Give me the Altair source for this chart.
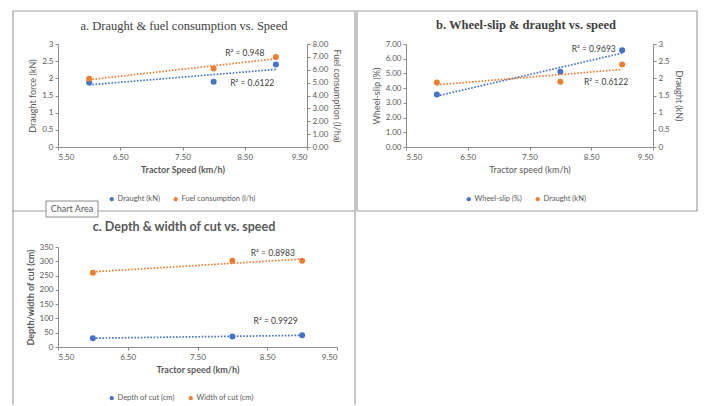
import altair as alt
import pandas as pd

# ---- data ----
speed = [6.0, 8.0, 9.0]
draught_kn = [1.88, 1.90, 2.40]
fuel_lha = [5.3, 6.1, 7.0]
wheel_slip = [3.56, 5.12, 6.57]
depth_cm = [31, 37, 41]
width_cm = [260, 302, 302]

x_ticks = [5.5, 6.5, 7.5, 8.5, 9.5]

BLUE = "#4472C4"
ORANGE = "#ED7D31"
FONT = "Lato"
SERIF = "Liberation Serif"
LABEL = "#595959"
AXISC = "#8C8C8C"
BORDER = "#A0A0A0"
ANNO = "#404040"

one = pd.DataFrame({"k": [0]})


def frame(series, values):
    return pd.DataFrame({"speed": speed, "value": values, "series": series})


def series_layer(df, color, names, ydomain, yticks, ylabel, ytitle, orient,
                 xtitle, xbold, ytbold, leg, r2, r2x, r2y):
    xscale = alt.Scale(domain=[5.5, 9.5], nice=False, zero=False)
    xaxis = alt.Axis(values=x_ticks, labelExpr="format(datum.value, '.2f')",
                     title=xtitle, titleFontWeight="bold" if xbold else "normal",
                     labelPadding=3, titlePadding=4, zindex=1)
    yscale = alt.Scale(domain=ydomain, nice=False, zero=True)
    yaxis = alt.Axis(values=yticks, labelExpr=ylabel, title=ytitle, orient=orient,
                     titleFontWeight="bold" if ytbold else "normal", zindex=1)
    x = alt.X("speed:Q", scale=xscale, axis=xaxis)
    y = alt.Y("value:Q", scale=yscale, axis=yaxis)
    line = alt.Chart(df).transform_regression("speed", "value").mark_line(
        color=color, strokeWidth=1.7, strokeDash=[1.6, 1.6]
    ).encode(x=x, y=y)
    pts = alt.Chart(df).mark_circle(size=36, opacity=1).encode(
        x=x, y=y,
        color=alt.Color("series:N",
                        scale=alt.Scale(domain=names, range=[BLUE, ORANGE]),
                        legend=leg),
    )
    txt = alt.Chart(one).mark_text(
        text=r2, font=FONT, fontSize=8.5, color=ANNO
    ).encode(
        x=alt.XDatum(r2x, type="quantitative", scale=xscale, axis=xaxis),
        y=alt.YDatum(r2y, type="quantitative", scale=yscale, axis=yaxis),
    )
    return alt.layer(line, pts, txt)


def legend(x, y):
    return alt.Legend(title=None, orient="none", legendX=x, legendY=y,
                      direction="horizontal", symbolType="circle",
                      symbolSize=18, symbolStrokeWidth=0,
                      labelFont=FONT, labelFontSize=7.5, labelColor=LABEL,
                      labelOffset=2, columnPadding=12)


def rect(x, x2, y, y2, **kw):
    return alt.Chart(one).mark_rect(**kw).encode(
        x=alt.value(x), x2=alt.value(x2), y=alt.value(y), y2=alt.value(y2))


def title(text, x, y, **kw):
    return alt.Chart(one).mark_text(text=text, fontSize=12.5, **kw).encode(
        x=alt.value(x), y=alt.value(y))


FMT_G = "format(datum.value, '~g')"
FMT_2 = "format(datum.value, '.2f')"

# ---- panel a ----
names_a = ["Draught (kN)", "Fuel consumption (l/h)"]
leg_a = legend(50, 151)
a1 = series_layer(frame(names_a[0], draught_kn), BLUE, names_a, [0, 3],
                  [0, 0.5, 1, 1.5, 2, 2.5, 3], FMT_G, "Draught force (kN)", "left",
                  "Tractor Speed (km/h)", True, False, leg_a,
                  "R² = 0.6122", 8.62, 1.86)
a2 = series_layer(frame(names_a[1], fuel_lha), ORANGE, names_a, [0, 8],
                  [0, 1, 2, 3, 4, 5, 6, 7, 8], FMT_2, "Fuel consumption (l/ha)", "right",
                  "Tractor Speed (km/h)", True, False, leg_a,
                  "R² = 0.948", 8.5, 7.3)
panel_a = alt.layer(
    rect(-45, 297, -33, 167, fillOpacity=0, stroke=BORDER, strokeWidth=1.2),
    title("a. Draught & fuel consumption vs. Speed", 126, -18,
          font=SERIF, fontWeight="normal", color=ANNO),
    a1, a2,
).resolve_scale(y="independent").properties(width=249, height=103)

# ---- panel b ----
names_b = ["Wheel-slip (%)", "Draught (kN)"]
leg_b = legend(59, 151)
b1 = series_layer(frame(names_b[0], wheel_slip), BLUE, names_b, [0, 7],
                  [0, 1, 2, 3, 4, 5, 6, 7], FMT_2, "Wheel-slip (%)", "left",
                  "Tractor speed (km/h)", False, False, leg_b,
                  "R² = 0.9693", 8.54, 6.66)
b2 = series_layer(frame(names_b[1], draught_kn), ORANGE, names_b, [0, 3],
                  [0, 0.5, 1, 1.5, 2, 2.5, 3], FMT_G, "Draught (kN)", "right",
                  "Tractor speed (km/h)", False, False, leg_b,
                  "R² = 0.6122", 8.74, 1.89)
panel_b = alt.layer(
    rect(-49, 291, -33, 167, fillOpacity=0, stroke=BORDER, strokeWidth=1.2),
    title("b. Wheel-slip & draught vs. speed", 120, -19,
          font=SERIF, fontWeight="bold", color=ANNO),
    b1, b2,
).resolve_scale(y="independent").properties(width=247, height=103)

# ---- panel c ----
names_c = ["Depth of cut (cm)", "Width of cut (cm)"]
leg_c = legend(50, 147)
c_ticks = [0, 50, 100, 150, 200, 250, 300, 350]
c1 = series_layer(frame(names_c[0], depth_cm), BLUE, names_c, [0, 350],
                  c_ticks, FMT_G, "Depth/width of cut (cm)", "left",
                  "Tractor speed (km/h)", True, True, leg_c,
                  "R² = 0.9929", 8.62, 91)
c2 = series_layer(frame(names_c[1], width_cm), ORANGE, names_c, [0, 350],
                  c_ticks, FMT_G, "Depth/width of cut (cm)", "left",
                  "Tractor speed (km/h)", True, True, leg_c,
                  "R² = 0.8983", 8.58, 330)
rule_l = alt.Chart(one).mark_rule(color=BORDER, strokeWidth=1.2).encode(
    x=alt.value(-45), y=alt.value(-36), y2=alt.value(158))
rule_r = alt.Chart(one).mark_rule(color=BORDER, strokeWidth=1.2).encode(
    x=alt.value(297), y=alt.value(-36), y2=alt.value(158))
chart_area_box = rect(-12, 40, -46, -30, fill="white", stroke="#8C8C8C", strokeWidth=1)
chart_area_txt = alt.Chart(one).mark_text(
    text="Chart Area", font=FONT, fontSize=9, color=LABEL
).encode(x=alt.value(14), y=alt.value(-38))
panel_c = alt.layer(
    rule_l, rule_r,
    title("c. Depth & width of cut vs. speed", 126, -20,
          font=FONT, fontWeight="bold", color=LABEL),
    c1, c2, chart_area_box, chart_area_txt,
).properties(width=279, height=100)

chart = alt.concat(panel_a, panel_b, panel_c, columns=2,
                   spacing={"row": 100, "column": 69}).properties(
    bounds="flush", padding={"left": 12, "top": 10, "right": 6, "bottom": 0},
).resolve_scale(color="independent").resolve_legend(color="independent").configure(
    background="white"
).configure_view(
    stroke=None
).configure_axis(
    grid=False, domainColor=AXISC, tickColor=AXISC, tickSize=3,
    labelFont=FONT, labelFontSize=8, labelColor=LABEL,
    titleFont=FONT, titleFontSize=9, titleColor=LABEL,
)

chart.save("out.html", embed_options={"renderer": "svg", "actions": False})
